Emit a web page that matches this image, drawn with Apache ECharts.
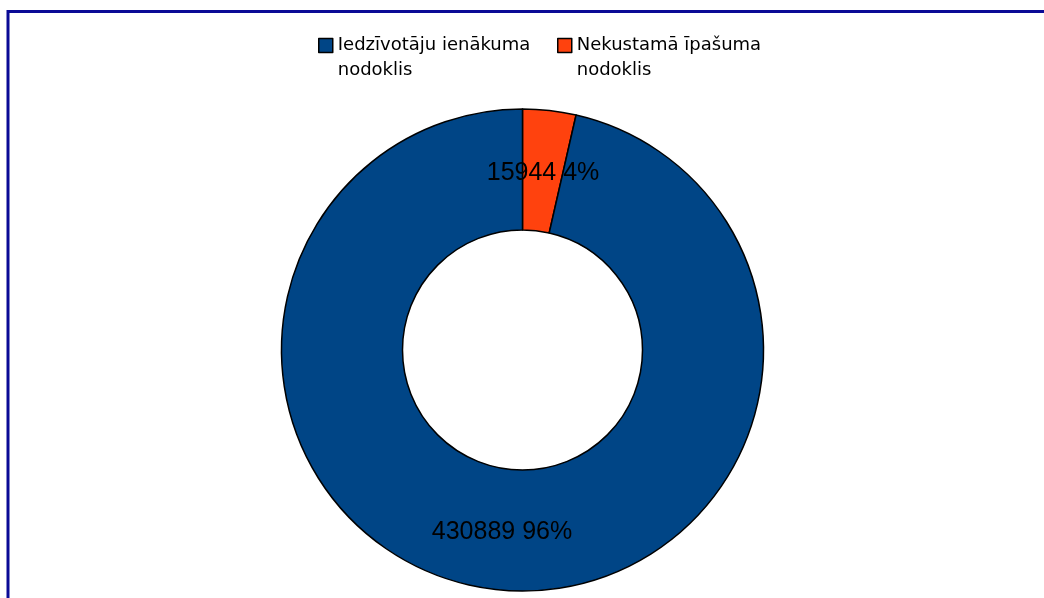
<!DOCTYPE html>
<html>
<head>
<meta charset="utf-8">
<script src="https://cdn.jsdelivr.net/npm/echarts@6/dist/echarts.min.js"></script>
<style>html,body{margin:0;padding:0;background:#fff;}#c{width:1044px;height:598px;}</style>
</head>
<body>
<div id="c"></div>
<script>
var categories = ['Iedzīvotāju ienākuma nodoklis', 'Nekustamā īpašuma nodoklis'];
var legendLine1 = ['Iedzīvotāju ienākuma', 'Nekustamā īpašuma'];
var legendLine2 = ['nodoklis', 'nodoklis'];
var values = [430889, 15944];
var colors = ['#004586', '#ff420e'];

var total = values.reduce(function (a, b) { return a + b; }, 0);
// drawing order: orange slice starts at 12 o'clock clockwise
var order = [1, 0];
var pieData = order.map(function (i) {
  var d = { name: categories[i], value: values[i], itemStyle: { color: colors[i] } };
  if (i === 1) d.label = { offset: [0, 5] };
  return d;
});

var chart = echarts.init(document.getElementById('c'), null, { renderer: 'canvas' });
function legendFor(i, left) {
  return {
    left: left, top: 3,
    orient: 'horizontal',
    itemWidth: 14, itemHeight: 14, itemGap: 6,
    icon: 'rect',
    selectedMode: false,
    data: [{ name: categories[i], itemStyle: { borderColor: '#000', borderWidth: 1.5 } }],
    formatter: function () { return '\n' + legendLine1[i] + '\n' + legendLine2[i]; },
    textStyle: { fontFamily: 'DejaVu Sans', fontSize: 18, color: '#000', lineHeight: 25 }
  };
}
chart.setOption({
  animation: false,
  backgroundColor: '#fff',
  legend: [legendFor(0, 313), legendFor(1, 552)],
  graphic: [{
    type: 'rect', silent: true,
    shape: { x: 8, y: 11.5, width: 1100, height: 700 },
    style: { fill: 'none', stroke: '#0a0a96', lineWidth: 3 }
  }],
  series: [{
    type: 'pie',
    center: [522.5, 350],
    radius: [120, 241],
    startAngle: 90,
    clockwise: true,
    avoidLabelOverlap: false,
    itemStyle: { borderColor: '#000', borderWidth: 1.5 },
    label: {
      show: true, position: 'inside',
      fontFamily: 'Liberation Sans', fontSize: 25, color: '#000',
      formatter: function (p) { return p.value + ' ' + Math.round(p.value / total * 100) + '%'; }
    },
    labelLine: { show: false },
    data: pieData
  }]
});
</script>
</body>
</html>
